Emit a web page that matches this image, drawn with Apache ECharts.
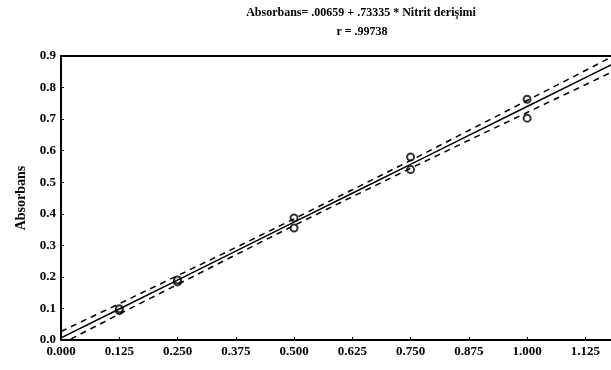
<!DOCTYPE html>
<html>
<head>
<meta charset="utf-8">
<script src="https://cdn.jsdelivr.net/npm/echarts@6/dist/echarts.min.js"></script>
<style>
html,body{margin:0;padding:0;background:#fff;}
#c{width:611px;height:370px;}
</style>
</head>
<body>
<div id="c"></div>
<script>
// Data
const titleLine1 = "Absorbans= .00659 + .73335 * Nitrit derişimi";
const titleLine2 = "r = .99738";
const xTickLabels = ["0.000","0.125","0.250","0.375","0.500","0.625","0.750","0.875","1.000","1.125"];
const yTickLabels = ["0.0","0.1","0.2","0.3","0.4","0.5","0.6","0.7","0.8","0.9"];
const pointX = [0.125, 0.125, 0.25, 0.25, 0.5, 0.5, 0.75, 0.75, 1.0, 1.0];
const pointY = [0.093, 0.099, 0.184, 0.190, 0.355, 0.387, 0.540, 0.580, 0.703, 0.763];
const lineX =  [0, 0.125, 0.25, 0.375, 0.5, 0.625, 0.75, 0.875, 1.0, 1.125, 1.18];
const fitY =   [0.0066, 0.0983, 0.1899, 0.2816, 0.3733, 0.4650, 0.5566, 0.6483, 0.7399, 0.8316, 0.8719];
const upperY = [0.027, 0.115, 0.204, 0.293, 0.384, 0.476, 0.569, 0.664, 0.759, 0.854, 0.896];
const lowerY = [-0.013, 0.082, 0.176, 0.270, 0.363, 0.454, 0.544, 0.633, 0.721, 0.809, 0.848];

const zip = (a, b) => a.map((v, i) => [v, b[i]]);
const font = "'Liberation Serif', 'DejaVu Serif', serif";

const chart = echarts.init(document.getElementById('c'));
chart.setOption({
  animation: false,
  backgroundColor: '#fff',
  title: [
    {text: titleLine1, left: 356, top: 2, textAlign: 'center',
     textStyle: {fontFamily: font, fontSize: 12, fontWeight: 'bold', color: '#000'}},
    {text: titleLine2, left: 357, top: 21, textAlign: 'center',
     textStyle: {fontFamily: font, fontSize: 12, fontWeight: 'bold', color: '#000'}}
  ],
  grid: {left: 61, right: 0, top: 56, bottom: 30},
  xAxis: [{
    type: 'value', min: 0, max: 1.18, interval: 0.125,
    axisLine: {show: true, lineStyle: {color: '#000', width: 2}},
    axisTick: {show: true, inside: true, length: 3, lineStyle: {color: '#000'}},
    splitLine: {show: false},
    axisLabel: {
      showMaxLabel: false, margin: 5,
      fontFamily: font, fontSize: 13, fontWeight: 'bold', color: '#000',
      formatter: v => { const i = Math.round(v / 0.125); return xTickLabels[i] || ''; }
    }
  }, {
    type: 'value', position: 'top', min: 0, max: 1.18,
    axisLine: {show: true, lineStyle: {color: '#000', width: 2}},
    axisTick: {show: false}, axisLabel: {show: false}, splitLine: {show: false}
  }],
  yAxis: {
    type: 'value', min: 0, max: 0.9, interval: 0.1,
    name: 'Absorbans', nameLocation: 'middle', nameRotate: 90, nameGap: 33,
    nameTextStyle: {fontFamily: font, fontSize: 14, fontWeight: 'bold', color: '#000'},
    axisLine: {show: true, lineStyle: {color: '#000', width: 2}},
    axisTick: {show: true, inside: true, length: 3, lineStyle: {color: '#000'}},
    splitLine: {show: false},
    axisLabel: {
      margin: 5, fontFamily: font, fontSize: 13, fontWeight: 'bold', color: '#000',
      formatter: v => { const i = Math.round(v * 10); return yTickLabels[i] || ''; }
    }
  },
  series: [
    {type: 'line', data: zip(lineX, fitY), symbol: 'none', clip: true,
     lineStyle: {color: '#000', width: 1.5}},
    {type: 'line', data: zip(lineX, upperY), symbol: 'none', clip: true,
     lineStyle: {color: '#000', width: 1.5, type: [6, 5]}},
    {type: 'line', data: zip(lineX, lowerY), symbol: 'none', clip: true,
     lineStyle: {color: '#000', width: 1.5, type: [6, 5]}},
    {type: 'scatter', data: zip(pointX, pointY), symbol: 'circle', symbolSize: 7,
     itemStyle: {color: '#fff', borderColor: '#000', borderWidth: 2}}
  ]
});
</script>
</body>
</html>
